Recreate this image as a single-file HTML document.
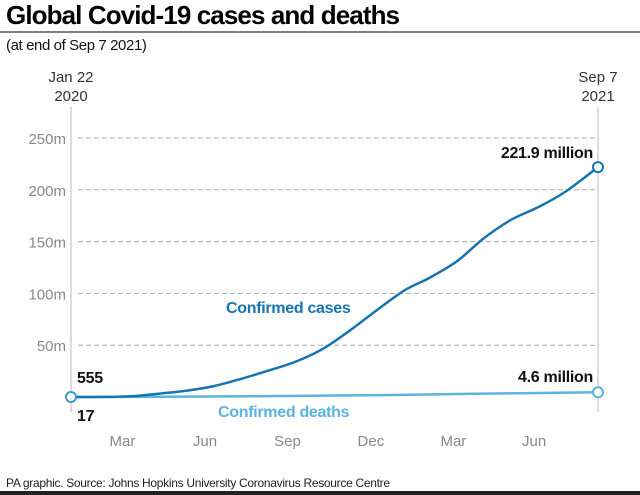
<!DOCTYPE html>
<html><head><meta charset="utf-8"><style>
body{margin:0;background:#fff;font-family:"Liberation Sans",sans-serif}
</style></head><body>
<svg width="640" height="495" viewBox="0 0 640 495" id="c" style="display:block">
<text x="6" y="24" font-size="26" font-weight="bold" fill="#000" letter-spacing="-0.9">Global Covid-19 cases and deaths</text>
<line x1="0" y1="32" x2="640" y2="32" stroke="#555" stroke-width="1.5"/>
<text x="6" y="50" font-size="15" fill="#111" letter-spacing="-0.4">(at end of Sep 7 2021)</text>
<text x="71" y="82" font-size="15" fill="#333" text-anchor="middle">Jan 22</text>
<text x="71" y="101" font-size="15" fill="#333" text-anchor="middle">2020</text>
<text x="598" y="82" font-size="15" fill="#333" text-anchor="middle">Sep 7</text>
<text x="598" y="101" font-size="15" fill="#333" text-anchor="middle">2021</text>
<line x1="71" y1="107" x2="71" y2="412" stroke="#bbb"/>
<line x1="598" y1="107" x2="598" y2="412" stroke="#bbb"/>
<g id="grid"></g><g id="marks"></g>
<text x="6" y="487" font-size="12" fill="#222" letter-spacing="-0.3">PA graphic. Source: Johns Hopkins University Coronavirus Resource Centre</text>
<rect x="0" y="491" width="640" height="4" fill="#222"/>
</svg>
<script>
const yTicks=[50,100,150,200,250];
const yTickLabels=["50m","100m","150m","200m","250m"];
const xLabelDays=[58,151,244,338,431,522];
const xLabels=["Mar","Jun","Sep","Dec","Mar","Jun"];
const caseDays=[0,39,70,100,131,161,192,223,253,284,314,345,376,404,435,465,496,526,557,594];
const caseVals=[0,0.09,0.9,3.3,6.2,10.5,17.6,25.6,34,46.5,64,84,103,115,131,153,171,183,198,221.9];
const deathDays=[0,100,223,345,465,594];
const deathVals=[0,0.23,0.85,1.8,3.2,4.6];
const NS="http://www.w3.org/2000/svg";
const X=d=>71+d*(598-71)/594, Y=v=>397-v*(397-138)/250;
function mk(t,a,p){const e=document.createElementNS(NS,t);for(const k in a)e.setAttribute(k,a[k]);p.appendChild(e);return e;}
const g=document.getElementById('grid'),m=document.getElementById('marks'),svg=document.getElementById('c');
yTicks.forEach((v,i)=>{
 const l=mk('line',{x1:78,x2:598,y1:Y(v),y2:Y(v),stroke:'#aaa','stroke-dasharray':'5,3'},g);
 
 
 const t=mk('text',{x:66,y:Y(v)+6,'font-size':15,fill:'#888','text-anchor':'end'},g);t.textContent=yTickLabels[i];
 
 
});
xLabelDays.forEach((d,i)=>{
 const t=mk('text',{x:X(d),y:446,'font-size':15,fill:'#888','text-anchor':'middle'},g);t.textContent=xLabels[i];
 
 
});
function smooth(pts){
 let d='M'+pts[0][0]+','+pts[0][1];
 for(let i=0;i<pts.length-1;i++){
  const p0=pts[Math.max(0,i-1)],p1=pts[i],p2=pts[i+1],p3=pts[Math.min(pts.length-1,i+2)];
  const c1=[p1[0]+(p2[0]-p0[0])/6,p1[1]+(p2[1]-p0[1])/6];
  const c2=[p2[0]-(p3[0]-p1[0])/6,p2[1]-(p3[1]-p1[1])/6];
  d+='C'+c1[0]+','+c1[1]+' '+c2[0]+','+c2[1]+' '+p2[0]+','+p2[1];
 }
 return d;
}
function line(days,vals,col,name){
 const pts=days.map((d,i)=>[X(d),Y(vals[i])]);
 const p=mk('path',{d:smooth(pts),fill:'none',stroke:col,'stroke-width':2.5,'stroke-linejoin':'round'},m);
 
 
 const c=mk('circle',{cx:X(days[days.length-1]),cy:Y(vals[vals.length-1]),r:5,fill:'#fff',stroke:col,'stroke-width':2},m);
 
 
}
line(deathDays,deathVals,'#5ab4de','deaths-line');
line(caseDays,caseVals,'#1675b0','cases-line');
const c0=mk('circle',{cx:X(0),cy:Y(0),r:5,fill:'#fff',stroke:'#3a9ccc','stroke-width':2},m);


function lab(x,y,txt,col,anchor,name,sz){const t=mk('text',{x:x,y:y,'font-size':sz||16,'font-weight':'bold',fill:col,'text-anchor':anchor,'letter-spacing':'-0.3'},svg);t.textContent=txt;
 
 }
lab(593,158,caseVals[caseVals.length-1]+' million','#111','end','cases-end-label');
lab(593,382,deathVals[deathVals.length-1]+' million','#111','end','deaths-end-label');
lab(77,383,'555','#111','start','cases-start-label');
lab(77,421,'17','#111','start','deaths-start-label');
lab(226,313,'Confirmed cases','#1675b0','start','cases-series-label');
lab(218,417,'Confirmed deaths','#5ab4de','start','deaths-series-label');
</script>
</body></html>
